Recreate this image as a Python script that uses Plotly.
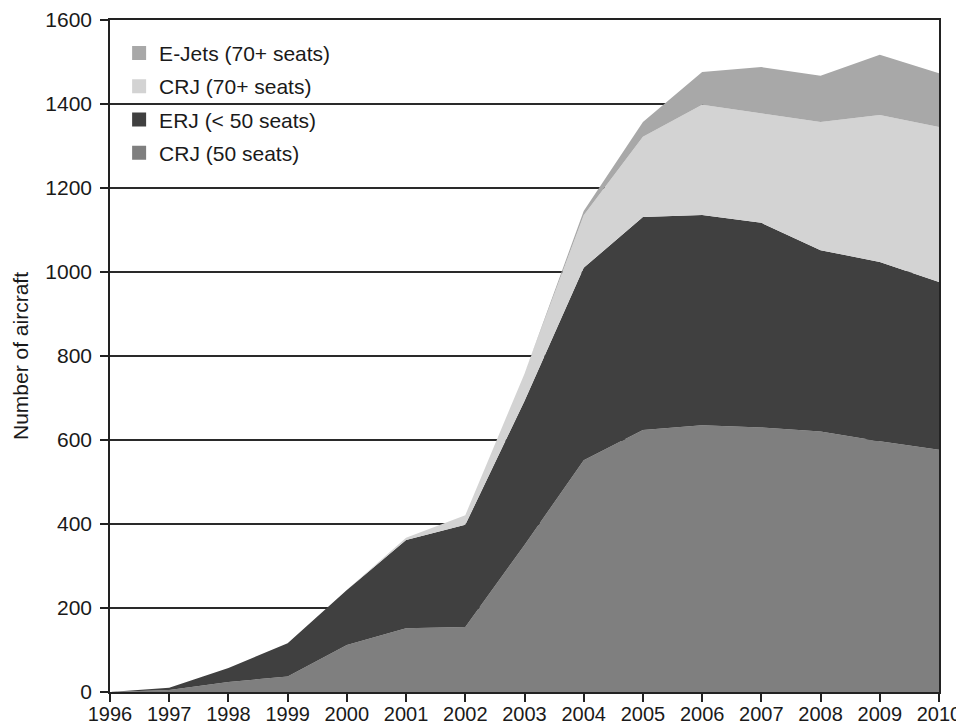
import plotly.graph_objects as go

years = list(range(1996, 2011))

# aircraft in service per family (stacked, bottom to top)
crj50 = [0, 5, 24, 37, 112, 152, 155, 350, 552, 624, 635, 630, 620, 597, 577]
erj = [0, 5, 33, 79, 131, 210, 243, 343, 458, 507, 501, 487, 432, 427, 399]
crj70 = [0, 0, 0, 0, 0, 5, 23, 65, 125, 191, 262, 261, 305, 350, 369]
ejets = [0, 0, 0, 0, 0, 0, 0, 0, 10, 35, 78, 110, 110, 143, 128]

series = [
    ("CRJ (50 seats)", crj50, "#7f7f7f"),
    ("ERJ (< 50 seats)", erj, "#404040"),
    ("CRJ (70+ seats)", crj70, "#d3d3d3"),
    ("E-Jets (70+ seats)", ejets, "#a8a8a8"),
]

font = "Liberation Sans, Arial, sans-serif"
fig = go.Figure()

for name, vals, col in series:
    fig.add_trace(go.Scatter(
        x=years, y=vals, name=name, stackgroup="one", mode="lines",
        line=dict(width=0, color=col), fillcolor=col, showlegend=False,
        hoverinfo="x+y+name",
    ))

# square legend keys, top series first
for i, (name, vals, col) in enumerate(reversed(series)):
    fig.add_trace(go.Scatter(
        x=[None], y=[None], name=name, mode="markers",
        marker=dict(symbol="square", size=14, color=col),
        legendgroup="g%d" % i,
    ))

# page body adds 8px margin, so the figure is a bit smaller than the window
fig.update_layout(
    width=956, height=718,
    margin=dict(l=102, r=25, t=12, b=34),
    paper_bgcolor="white", plot_bgcolor="white",
    font=dict(family=font, size=21, color="#1a1a1a"),
    legend=dict(
        x=0.011, y=0.981, xanchor="left", yanchor="top",
        traceorder="grouped", tracegroupgap=3,
        bgcolor="rgba(0,0,0,0)", font=dict(size=21),
        itemwidth=30,
    ),
    xaxis=dict(
        range=[1996, 2010], tickmode="array", tickvals=years,
        showgrid=False, zeroline=False, automargin=False,
        showline=True, linecolor="#222222", linewidth=1.5, mirror=True,
        ticks="outside", ticklen=8, tickwidth=1.5, tickcolor="#222222",
        ticklabelstandoff=-5, tickfont=dict(size=20),
    ),
    yaxis=dict(
        range=[0, 1600], tickvals=list(range(0, 1601, 200)),
        title=dict(text="Number of aircraft", font=dict(size=21), standoff=11),
        showgrid=True, gridcolor="#2a2a2a", gridwidth=1.5, zeroline=False,
        automargin=False,
        showline=True, linecolor="#222222", linewidth=1.5, mirror=True,
        ticks="outside", ticklen=8, tickwidth=1.5, tickcolor="#222222",
        ticklabelstandoff=4,
    ),
)

fig.write_html("out.html")
